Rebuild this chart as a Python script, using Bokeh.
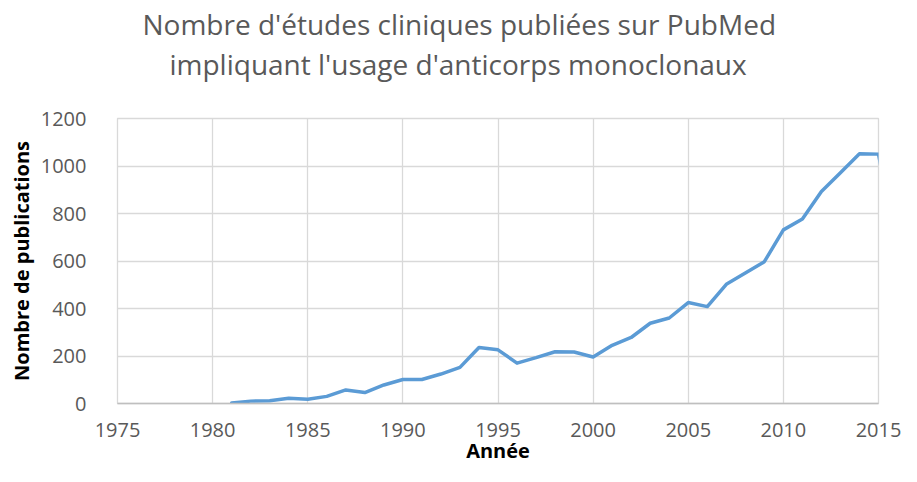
from bokeh.plotting import figure
from bokeh.models import Range1d, SingleIntervalTicker, Title
from bokeh.embed import file_html
from bokeh.resources import INLINE

# ---- data ----
years = [1981, 1982, 1983, 1984, 1985, 1986, 1987, 1988, 1989, 1990,
         1991, 1992, 1993, 1994, 1995, 1996, 1997, 1998, 1999, 2000,
         2001, 2002, 2003, 2004, 2005, 2006, 2007, 2008, 2009, 2010,
         2011, 2012, 2013, 2014, 2015, 2016]
publications = [2, 10, 12, 22, 18, 30, 57, 46, 78, 101,
                 101, 124, 152, 236, 226, 170, 193, 218, 217, 196,
                 245, 278, 338, 360, 425, 408, 502, 549, 597, 731,
                 777, 893, 972, 1052, 1050, 640]
title_lines = ["Nombre d'études cliniques publiées sur PubMed",
               "impliquant l'usage d'anticorps monoclonaux"]
x_label = "Année"
y_label = "Nombre de publications"

FONT = "Open Sans"
GRAY = "#595959"
GRID = "#d9d9d9"

p = figure(width=901, height=466, output_backend="svg", toolbar_location=None,
           x_range=Range1d(1975, 2015), y_range=Range1d(0, 1200),
           min_border_left=117, min_border_right=23,
           min_border_top=118, min_border_bottom=63)

p.line(years, publications, line_color="#5b9bd5", line_width=3.5,
       line_join="round", line_cap="round")

p.outline_line_color = GRID
p.outline_line_width = 1.3

p.xaxis.ticker = SingleIntervalTicker(interval=5)
p.yaxis.ticker = SingleIntervalTicker(interval=200)
p.xgrid.ticker = SingleIntervalTicker(interval=5)
p.ygrid.ticker = SingleIntervalTicker(interval=200)
p.xgrid.grid_line_color = GRID
p.ygrid.grid_line_color = GRID
p.xgrid.grid_line_width = 1.3
p.ygrid.grid_line_width = 1.3

for ax in (p.xaxis, p.yaxis):
    ax.major_tick_line_color = None
    ax.minor_tick_line_color = None
    ax.major_label_text_font = FONT
    ax.major_label_text_font_size = "20px"
    ax.major_label_text_color = GRAY
    ax.axis_label_text_font = FONT
    ax.axis_label_text_font_size = "20px"
    ax.axis_label_text_font_style = "bold"
    ax.axis_label_text_color = "#000000"

p.xaxis.axis_line_color = "#bfbfbf"
p.xaxis.axis_line_width = 1.5
p.yaxis.axis_line_color = None
p.xaxis.major_label_standoff = 13
p.yaxis.major_label_standoff = 25
p.xaxis.axis_label = x_label
p.yaxis.axis_label = y_label
p.xaxis.axis_label_standoff = -3
p.yaxis.axis_label_standoff = 3

# two-line title, centred over the whole chart
# (first added = closest to the plot frame)
p.add_layout(Title(text=title_lines[1], align="left", offset=52,
                   text_font=FONT, text_font_size="28px", text_font_style="normal",
                   text_color=GRAY, standoff=72), "above")
p.add_layout(Title(text=title_lines[0], align="left", offset=25,
                   text_font=FONT, text_font_size="28px", text_font_style="normal",
                   text_color=GRAY, standoff=-72), "above")

open("out.html", "w").write(file_html(p, INLINE))
